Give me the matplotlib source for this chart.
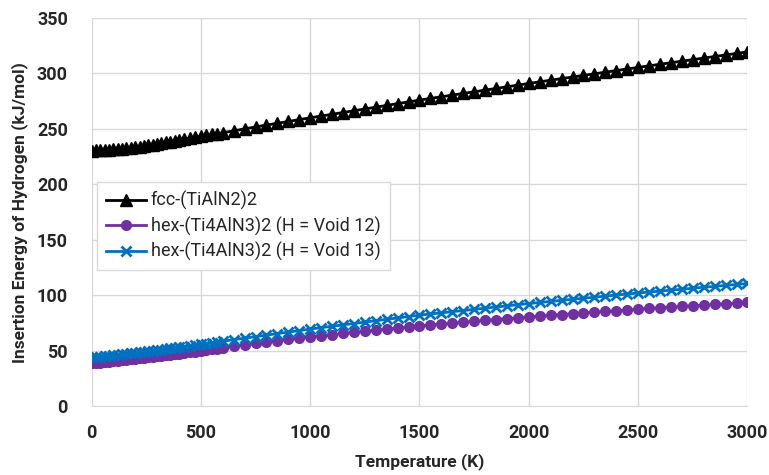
import matplotlib
matplotlib.use("Agg")
from matplotlib import pyplot as plt

# temperature grid (K)
temps = [0, 20, 40, 60, 80, 100, 120, 140, 160, 180, 200, 220, 240, 260, 280, 300,
         320, 340, 360, 380, 400, 425, 450, 475, 500, 525, 550, 575, 600,
         650, 700, 750, 800, 850, 900, 950, 1000, 1050, 1100, 1150, 1200, 1250,
         1300, 1350, 1400, 1450, 1500, 1550, 1600, 1650, 1700, 1750, 1800, 1850,
         1900, 1950, 2000, 2050, 2100, 2150, 2200, 2250, 2300, 2350, 2400, 2450,
         2500, 2550, 2600, 2650, 2700, 2750, 2800, 2850, 2900, 2950, 3000]

# fcc-(TiAlN2)2
fcc = [230.5, 230.6, 230.8, 231.0, 231.2, 231.5, 231.9, 232.3, 232.7, 233.1, 233.5,
       234.1, 234.7, 235.3, 235.9, 236.5, 237.2, 237.9, 238.6, 239.3, 240.0,
       240.9, 241.8, 242.6, 243.5, 244.2, 245.0, 245.7, 246.5,
       248.3, 250.0, 251.8, 253.5, 255.1, 256.7, 258.4, 260.0, 261.6, 263.2, 264.8,
       266.4, 268.0, 269.6, 271.2, 272.8, 274.4, 276.0, 277.5, 279.0, 280.5, 282.0,
       283.5, 285.0, 286.5, 288.0, 289.5, 291.0, 292.5, 293.9, 295.4, 296.8, 298.3,
       299.7, 301.2, 302.6, 304.1, 305.5, 306.9, 308.3, 309.7, 311.1, 312.5, 313.9,
       315.3, 316.7, 318.1, 319.5]

# hex-(Ti4AlN3)2, H = Void 12
void12 = [38.5, 38.8, 39.2, 39.6, 40.0, 40.4, 40.8, 41.2, 41.6, 42.1, 42.5,
          43.0, 43.4, 43.9, 44.3, 44.8, 45.3, 45.8, 46.2, 46.6, 47.0,
          47.7, 48.4, 49.0, 49.7, 50.4, 51.1, 51.8, 52.5,
          53.9, 55.2, 56.5, 57.8, 59.0, 60.1, 61.3, 62.5, 63.5, 64.5, 65.5,
          66.5, 67.5, 68.5, 69.5, 70.5, 71.5, 72.5, 73.3, 74.1, 74.9, 75.7,
          76.5, 77.3, 78.1, 78.9, 79.7, 80.5, 81.2, 81.9, 82.6, 83.3, 84.0,
          84.7, 85.4, 86.1, 86.8, 87.5, 88.1, 88.7, 89.3, 89.9, 90.5, 91.1,
          91.7, 92.3, 92.9, 93.5]

# hex-(Ti4AlN3)2, H = Void 13
void13 = [44.0, 44.3, 44.6, 45.0, 45.4, 45.9, 46.3, 46.7, 47.1, 47.6, 48.0,
          48.5, 49.0, 49.5, 50.0, 50.5, 51.0, 51.5, 52.0, 52.5, 53.0,
          53.7, 54.4, 55.0, 55.7, 56.4, 57.1, 57.8, 58.5,
          59.9, 61.3, 62.6, 64.0, 65.4, 66.8, 68.1, 69.5, 70.8, 72.0, 73.3,
          74.5, 75.8, 77.0, 78.3, 79.5, 80.8, 82.0, 83.1, 84.1, 85.2, 86.2,
          87.3, 88.3, 89.4, 90.4, 91.5, 92.5, 93.5, 94.4, 95.4, 96.3, 97.3,
          98.2, 99.2, 100.1, 101.1, 102.0, 102.9, 103.7, 104.6, 105.4, 106.3, 107.2,
          108.0, 108.9, 109.7, 110.6]

labels = ["fcc-(TiAlN2)2",
          "hex-(Ti4AlN3)2 (H = Void 12)",
          "hex-(Ti4AlN3)2 (H = Void 13)"]

plt.rcParams['font.family'] = ['Roboto', 'DejaVu Sans']

fig = plt.figure(figsize=(7.69, 4.75), dpi=100)
ax = fig.add_axes([0.119, 0.145, 0.853, 0.817])

ax.plot(temps, fcc, color='black', lw=2, marker='^', ms=8, label=labels[0])
ax.plot(temps, void12, color='#7030A0', lw=2, marker='o', ms=7, label=labels[1])
ax.plot(temps, void13, color='#0070C0', lw=2, marker='x', ms=7, mew=2, label=labels[2])

ax.set_xlim(0, 3000)
ax.set_ylim(0, 350)
ax.set_xticks(range(0, 3001, 500))
ax.set_yticks(range(0, 351, 50))
ax.grid(True, color='#d9d9d9', lw=1)
ax.set_axisbelow(True)
for s in ['top', 'right', 'left']:
    ax.spines[s].set_visible(False)
ax.spines['bottom'].set_color('#d9d9d9')
ax.tick_params(length=0, labelsize=13, colors='#262626')
ax.tick_params(axis='x', pad=13)
ax.tick_params(axis='y', pad=17)
for t in ax.get_xticklabels() + ax.get_yticklabels():
    t.set_fontweight('bold')

ax.set_xlabel("Temperature (K)", fontsize=12.5, fontweight='bold', color='#262626', labelpad=8)
ax.set_ylabel("Insertion Energy of Hydrogen (kJ/mol)", fontsize=12.5, fontweight='bold',
              color='#262626', labelpad=6)

leg = ax.legend(loc='upper left', bbox_to_anchor=(0.008, 0.577), fontsize=13,
                fancybox=False, edgecolor='#d9d9d9', framealpha=1, borderaxespad=0,
                handlelength=2.2, handletextpad=0.3, borderpad=0.5, labelspacing=0.35)
for t in leg.get_texts():
    t.set_color('#262626')

fig.savefig("out.png", dpi=100)
